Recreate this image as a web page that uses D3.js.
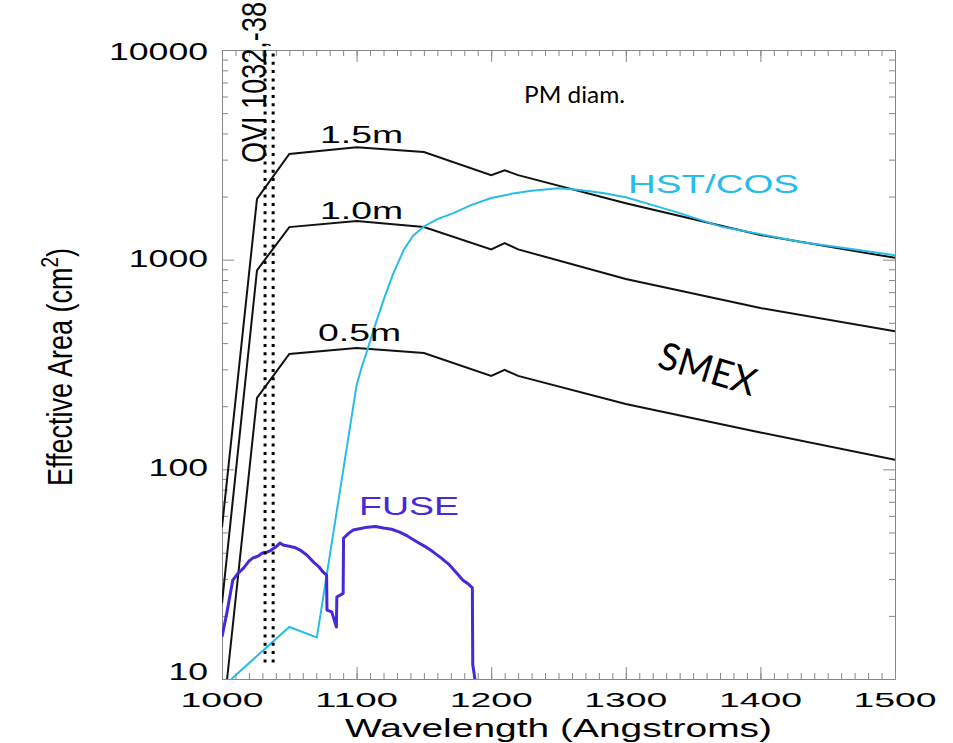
<!DOCTYPE html>
<meta charset="utf-8">
<style>
body { margin: 0; background: #fff; }
.axis path, .axis line { stroke: #888; stroke-width: 1px; }
.idl { font-family: "Liberation Sans", Arial, sans-serif; }
.ppt { font-family: Lato, "Open Sans", sans-serif; }
</style>
<body>
<script src="https://cdn.jsdelivr.net/npm/d3@7"></script>
<script>

// mirror diameters, same wavelength grid for all three
var smexWave = [1000, 1026, 1050, 1100, 1150, 1200, 1210, 1220, 1300, 1400, 1500];
var smex15 = [53, 1950, 3190, 3440, 3260, 2530, 2670, 2530, 1860, 1310, 1020];
var smex10 = [23, 890, 1430, 1530, 1430, 1120, 1200, 1120, 808, 588, 455];
var smex05 = [5.9, 219, 355, 379, 359, 279, 298, 279, 205, 150, 111];
var smexNames = ["1.5m", "1.0m", "0.5m"];

var cosWave = [1007, 1050, 1070.5, 1100, 1104, 1108, 1113, 1120, 1127, 1135, 1142, 1150, 1160, 1172, 1185, 1200, 1215, 1230, 1250, 1266, 1283, 1300, 1320, 1340, 1372, 1400, 1430, 1465, 1500];
var cosArea = [10, 17.7, 15.8, 252, 310, 371, 470, 641, 850, 1112, 1300, 1440, 1560, 1667, 1820, 1967, 2060, 2130, 2190, 2150, 2080, 1986, 1820, 1667, 1430, 1324, 1214, 1130, 1050];

var fuseWave = [1000, 1003.5, 1008, 1012, 1016, 1020, 1023, 1027, 1030, 1033, 1036, 1040, 1043, 1046, 1050, 1054, 1058, 1063, 1068, 1072, 1075, 1077.7, 1078, 1081.5, 1085, 1085.3, 1090, 1090.3, 1094, 1097.5, 1103, 1108, 1114, 1120, 1126, 1132, 1138, 1145, 1151, 1157, 1163, 1169, 1174, 1179, 1183, 1186, 1186.3, 1189];
var fuseArea = [15.9, 20.5, 29.6, 32, 33.8, 36.5, 37.8, 38.6, 39.9, 40.2, 41, 42.6, 44.5, 43.4, 43, 42.4, 41.2, 39, 36.1, 34.3, 32.4, 31.3, 21.3, 20.9, 17.7, 24.6, 25.6, 46.9, 49.5, 51.4, 52.2, 53, 53.4, 52.5, 51.8, 50.2, 48, 45, 42.8, 40.3, 37.7, 35, 32.2, 29.6, 28.4, 27.2, 11.7, 9];

var oviWave = [1032, 1038];
var oviRange = [12, 10000];

var xMajor = [1000, 1100, 1200, 1300, 1400, 1500];
var xMinor = d3.range(1000, 1501, 10);
var yMajor = [10, 100, 1000, 10000];
var yMinor = [20, 30, 40, 50, 60, 70, 80, 90, 200, 300, 400, 500, 600, 700, 800, 900,
              2000, 3000, 4000, 5000, 6000, 7000, 8000, 9000];
var yLabels = ["10", "100", "1000", "10000"];

var WIDTH = 953;
var HEIGHT = 743;
var LEFT = 222, RIGHT = 895, TOP = 50, BOTTOM = 679;

var BLACK = '#111';
var COSCOLOR = '#26bde8';
var FUSECOLOR = '#4a27d8';

var svg = d3.select('body').append('svg')
    .attr('width', WIDTH)
    .attr('height', HEIGHT);

var x = d3.scaleLinear().domain([1000, 1500]).range([LEFT, RIGHT]);
var y = d3.scaleLog().domain([10, 10000]).range([BOTTOM, TOP]);

svg.append('defs').append('clipPath').attr('id', 'plotclip')
  .append('rect')
    .attr('x', LEFT).attr('y', TOP)
    .attr('width', RIGHT - LEFT).attr('height', BOTTOM - TOP);

// frame + inward ticks on all four sides (IDL style)
function drawAxis(axisFn, scale, pos, vals, len) {
  svg.append('g').attr('class', 'axis').attr('transform', pos)
    .call(axisFn(scale).tickValues(vals).tickSize(-len).tickSizeOuter(0).tickFormat(''));
}
drawAxis(d3.axisBottom, x, 'translate(0,' + BOTTOM + ')', xMinor, 6);
drawAxis(d3.axisBottom, x, 'translate(0,' + BOTTOM + ')', xMajor, 12);
drawAxis(d3.axisTop, x, 'translate(0,' + TOP + ')', xMinor, 6);
drawAxis(d3.axisTop, x, 'translate(0,' + TOP + ')', xMajor, 12);
drawAxis(d3.axisLeft, y, 'translate(' + LEFT + ',0)', yMinor, 6);
drawAxis(d3.axisLeft, y, 'translate(' + LEFT + ',0)', yMajor, 12);
drawAxis(d3.axisRight, y, 'translate(' + RIGHT + ',0)', yMinor, 6);
drawAxis(d3.axisRight, y, 'translate(' + RIGHT + ',0)', yMajor, 12);

// tick labels, stretched wide like the original
svg.selectAll('.xlab').data(xMajor).enter().append('text')
    .attr('class', 'idl')
    .attr('x', function(d) { return x(d) - 41.5; })
    .attr('y', 707)
    .attr('font-size', 21)
    .attr('textLength', 83)
    .attr('lengthAdjust', 'spacingAndGlyphs')
    .text(function(d) { return d; });

// end labels get pulled inside the frame, like IDL does
svg.selectAll('.ylab').data(yMajor).enter().append('text')
    .attr('class', 'idl')
    .attr('x', function(d, i) { return 208 - 19.8 * yLabels[i].length; })
    .attr('y', function(d) { return Math.max(TOP + 10, Math.min(BOTTOM + 1, y(d) + 7)); })
    .attr('font-size', 23)
    .attr('textLength', function(d, i) { return 19.8 * yLabels[i].length; })
    .attr('lengthAdjust', 'spacingAndGlyphs')
    .text(function(d, i) { return yLabels[i]; });

svg.append('text')
    .attr('class', 'idl')
    .attr('x', 345).attr('y', 737)
    .attr('font-size', 26)
    .attr('textLength', 427)
    .attr('lengthAdjust', 'spacingAndGlyphs')
    .text('Wavelength (Angstroms)');

var ytitle = svg.append('text')
    .attr('class', 'idl')
    .attr('transform', 'translate(72,367) scale(1.3,1) rotate(-90)')
    .attr('text-anchor', 'middle')
    .attr('font-size', 27);
ytitle.append('tspan').text('Effective Area (cm');
ytitle.append('tspan').attr('font-size', 19).attr('dy', -11).text('2');
ytitle.append('tspan').attr('dy', 11).text(')');

// OVI doublet markers
var plot = svg.append('g').attr('clip-path', 'url(#plotclip)');
svg.selectAll('.ovi').data(oviWave).enter().append('line')
    .attr('x1', function(d) { return x(d); })
    .attr('x2', function(d) { return x(d); })
    .attr('y1', y(oviRange[0]))
    .attr('y2', y(oviRange[1]))
    .attr('stroke', '#000')
    .attr('stroke-width', 3)
    .attr('stroke-dasharray', '3,5.3');

svg.append('text')
    .attr('class', 'idl')
    .attr('transform', 'translate(266,163) scale(1.3,1) rotate(-90)')
    .attr('font-size', 27)
    .attr('textLength', 161)
    .attr('lengthAdjust', 'spacingAndGlyphs')
    .text('OVI 1032,-38');

var line = d3.line()
    .x(function(d) { return x(d[0]); })
    .y(function(d) { return y(d[1]); });

var smexSeries = [smex15, smex10, smex05];
smexSeries.forEach(function(vals) {
  plot.append('path')
      .attr('d', line(d3.zip(smexWave, vals)))
      .attr('fill', 'none')
      .attr('stroke', BLACK)
      .attr('stroke-width', 2);
});

plot.append('path')
    .attr('d', line(d3.zip(cosWave, cosArea)))
    .attr('fill', 'none')
    .attr('stroke', COSCOLOR)
    .attr('stroke-width', 2);

plot.append('path')
    .attr('d', line(d3.zip(fuseWave, fuseArea)))
    .attr('fill', 'none')
    .attr('stroke', FUSECOLOR)
    .attr('stroke-width', 3)
    .attr('stroke-linejoin', 'round');

// curve labels
var smexLabelX = [320, 320, 318];
var smexLabelY = [143, 219, 341];
svg.selectAll('.smexlab').data(smexNames).enter().append('text')
    .attr('class', 'idl')
    .attr('x', function(d, i) { return smexLabelX[i]; })
    .attr('y', function(d, i) { return smexLabelY[i]; })
    .attr('font-size', 24)
    .attr('textLength', 83)
    .attr('lengthAdjust', 'spacingAndGlyphs')
    .text(function(d) { return d; });

svg.append('text')
    .attr('class', 'idl')
    .attr('x', 628).attr('y', 193)
    .attr('font-size', 25)
    .attr('textLength', 171)
    .attr('lengthAdjust', 'spacingAndGlyphs')
    .attr('fill', COSCOLOR)
    .text('HST/COS');

svg.append('text')
    .attr('class', 'idl')
    .attr('x', 359).attr('y', 515)
    .attr('font-size', 25)
    .attr('textLength', 100)
    .attr('lengthAdjust', 'spacingAndGlyphs')
    .attr('fill', FUSECOLOR)
    .text('FUSE');

// overlay notes added on top of the plot
svg.append('text')
    .attr('class', 'ppt')
    .attr('x', 524).attr('y', 103)
    .attr('font-size', 24)
    .attr('textLength', 101)
    .attr('lengthAdjust', 'spacingAndGlyphs')
    .text('PM diam.');

svg.append('text')
    .attr('class', 'ppt')
    .attr('transform', 'translate(656,367) rotate(17)')
    .attr('font-size', 38)
    .attr('textLength', 100)
    .attr('lengthAdjust', 'spacingAndGlyphs')
    .text('SMEX');

</script>
